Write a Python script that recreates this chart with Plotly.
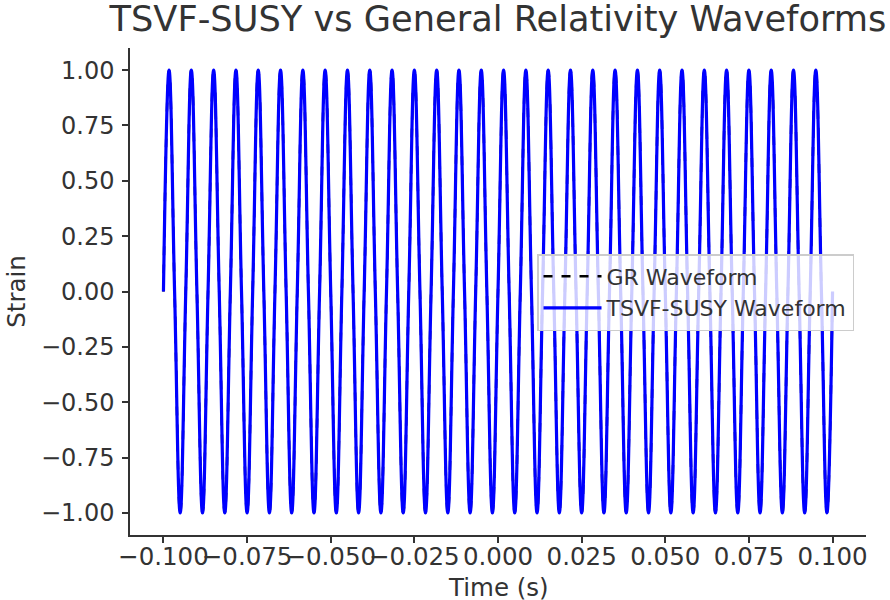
import plotly.graph_objects as go

# Time samples (s), read at zero crossings / peaks / troughs of the waveform
time_s = [
    -0.10000, -0.09833, -0.09667, -0.09500, -0.09333, -0.09167,
    -0.09000, -0.08833, -0.08667, -0.08500, -0.08333, -0.08167,
    -0.08000, -0.07833, -0.07667, -0.07500, -0.07333, -0.07167,
    -0.07000, -0.06833, -0.06667, -0.06500, -0.06333, -0.06167,
    -0.06000, -0.05833, -0.05667, -0.05500, -0.05333, -0.05167,
    -0.05000, -0.04833, -0.04667, -0.04500, -0.04333, -0.04167,
    -0.04000, -0.03833, -0.03667, -0.03500, -0.03333, -0.03167,
    -0.03000, -0.02833, -0.02667, -0.02500, -0.02333, -0.02167,
    -0.02000, -0.01833, -0.01667, -0.01500, -0.01333, -0.01167,
    -0.01000, -0.00833, -0.00667, -0.00500, -0.00333, -0.00167,
    0.00000, 0.00167, 0.00333, 0.00500, 0.00667, 0.00833,
    0.01000, 0.01167, 0.01333, 0.01500, 0.01667, 0.01833,
    0.02000, 0.02167, 0.02333, 0.02500, 0.02667, 0.02833,
    0.03000, 0.03167, 0.03333, 0.03500, 0.03667, 0.03833,
    0.04000, 0.04167, 0.04333, 0.04500, 0.04667, 0.04833,
    0.05000, 0.05167, 0.05333, 0.05500, 0.05667, 0.05833,
    0.06000, 0.06167, 0.06333, 0.06500, 0.06667, 0.06833,
    0.07000, 0.07167, 0.07333, 0.07500, 0.07667, 0.07833,
    0.08000, 0.08167, 0.08333, 0.08500, 0.08667, 0.08833,
    0.09000, 0.09167, 0.09333, 0.09500, 0.09667, 0.09833,
    0.10000,
]

# GR waveform strain at those samples
strain_gr = [
    0, 1, 0, -1, 0, 1,
    0, -1, 0, 1, 0, -1,
    0, 1, 0, -1, 0, 1,
    0, -1, 0, 1, 0, -1,
    0, 1, 0, -1, 0, 1,
    0, -1, 0, 1, 0, -1,
    0, 1, 0, -1, 0, 1,
    0, -1, 0, 1, 0, -1,
    0, 1, 0, -1, 0, 1,
    0, -1, 0, 1, 0, -1,
    0, 1, 0, -1, 0, 1,
    0, -1, 0, 1, 0, -1,
    0, 1, 0, -1, 0, 1,
    0, -1, 0, 1, 0, -1,
    0, 1, 0, -1, 0, 1,
    0, -1, 0, 1, 0, -1,
    0, 1, 0, -1, 0, 1,
    0, -1, 0, 1, 0, -1,
    0, 1, 0, -1, 0, 1,
    0, -1, 0, 1, 0, -1,
    0,
]

# TSVF-SUSY waveform strain (indistinguishable from GR in the picture)
strain_tsvf = list(strain_gr)

x_tick_vals = [-0.100, -0.075, -0.050, -0.025, 0.000, 0.025, 0.050, 0.075, 0.100]
x_tick_text = ["\u22120.100", "\u22120.075", "\u22120.050", "\u22120.025",
               "0.000", "0.025", "0.050", "0.075", "0.100"]
y_tick_vals = [-1.00, -0.75, -0.50, -0.25, 0.00, 0.25, 0.50, 0.75, 1.00]
y_tick_text = ["\u22121.00", "\u22120.75", "\u22120.50", "\u22120.25",
               "0.00", "0.25", "0.50", "0.75", "1.00"]

FONT = "DejaVu Sans"
TXT = "#333333"

fig = go.Figure()
fig.add_trace(go.Scatter(
    x=time_s, y=strain_gr, mode="lines", name="GR Waveform",
    line=dict(color="black", width=2.5, dash="dash", shape="spline", smoothing=1.2),
))
fig.add_trace(go.Scatter(
    x=time_s, y=strain_tsvf, mode="lines", name="TSVF-SUSY Waveform",
    line=dict(color="blue", width=3.2, shape="spline", smoothing=1.2),
))

fig.update_layout(
    width=890, height=600,
    margin=dict(l=130, r=24, t=48, b=65, autoexpand=False),
    paper_bgcolor="white", plot_bgcolor="white",
    font=dict(family=FONT, color=TXT, size=24),
    title=dict(text="TSVF-SUSY vs General Relativity Waveforms",
               font=dict(family=FONT, size=35.2, color=TXT),
               x=0.5, xref="paper", xanchor="center",
               y=1, yref="container", yanchor="top", pad=dict(t=6), automargin=False),
    showlegend=True,
    legend=dict(x=0.553, y=0.577, xanchor="left", yanchor="top",
                bgcolor="rgba(255,255,255,0.8)", bordercolor="#cccccc", borderwidth=1.5,
                itemwidth=58,
                font=dict(family=FONT, size=22, color=TXT)),
    annotations=[dict(text="Time (s)", xref="paper", yref="paper", x=0.5, y=-0.1088,
                      xanchor="center", yanchor="middle", showarrow=False,
                      font=dict(family=FONT, size=24.5, color=TXT))],
)
fig.update_xaxes(
    range=[-0.11, 0.11], tickvals=x_tick_vals, ticktext=x_tick_text, tickangle=0,
    automargin=False, ticklabelstandoff=-7,
    showgrid=False, zeroline=False, showline=True, linecolor="#333333", linewidth=1.5,
    ticks="outside", ticklen=6, tickwidth=1.5, tickcolor="#333333",
    tickfont=dict(family=FONT, size=24.5, color=TXT),
)
fig.update_yaxes(
    range=[-1.1, 1.1], tickvals=y_tick_vals, ticktext=y_tick_text,
    automargin=False, ticklabelstandoff=3,
    showgrid=False, zeroline=False, showline=True, linecolor="#333333", linewidth=1.5,
    ticks="outside", ticklen=6, tickwidth=1.5, tickcolor="#333333",
    tickfont=dict(family=FONT, size=24, color=TXT),
    title=dict(text="Strain", font=dict(family=FONT, size=24.5, color=TXT), standoff=8),
)

fig.write_html(
    "out.html",
    config={"displayModeBar": False},
    post_script="document.body.style.margin='0';document.body.style.padding='0';",
)
